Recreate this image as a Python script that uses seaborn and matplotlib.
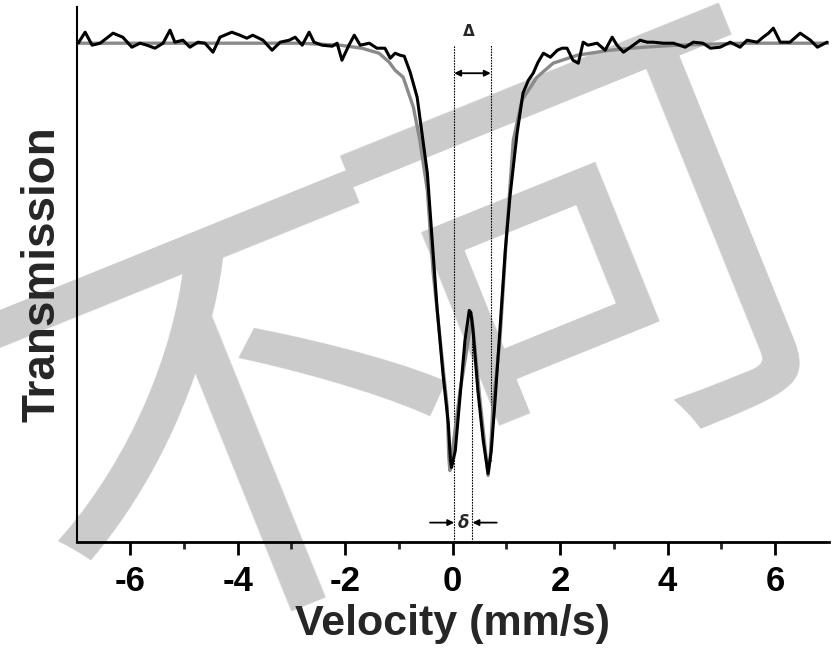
import matplotlib
matplotlib.use("Agg")
import matplotlib.pyplot as plt
import seaborn as sns
import pandas as pd

# ---- data ----
data_velocity = [-6.97, -6.84, -6.71, -6.56, -6.32, -6.14, -5.97, -5.82, -5.69, -5.54,
                 -5.39, -5.26, -5.17, -5.02, -4.89, -4.74, -4.61, -4.46, -4.33, -4.11,
                 -3.96, -3.83, -3.72, -3.53, -3.36, -3.21, -3.04, -2.93, -2.80, -2.67,
                 -2.58, -2.43, -2.24, -2.15, -2.06, -1.93, -1.83, -1.72, -1.55, -1.41,
                 -1.26, -1.16, -1.07, -0.98, -0.90, -0.79, -0.66, -0.57, -0.47, -0.38,
                 -0.29, -0.18, -0.08, -0.04, -0.02, 0.05, 0.14, 0.23, 0.31, 0.34,
                 0.38, 0.47, 0.57, 0.66, 0.72, 0.79, 0.88, 0.98, 1.07, 1.20,
                 1.31, 1.41, 1.50, 1.59, 1.69, 1.82, 1.95, 2.04, 2.13, 2.24,
                 2.34, 2.43, 2.52, 2.69, 2.84, 2.97, 3.06, 3.18, 3.31, 3.49,
                 3.62, 3.73, 3.92, 4.11, 4.33, 4.48, 4.66, 4.80, 4.98, 5.17,
                 5.35, 5.48, 5.67, 5.78, 5.88, 5.97, 6.10, 6.28, 6.47, 6.66,
                 6.79, 6.97]
data_transmission = [1.0000, 1.0011, 0.9998, 1.0000, 1.0010, 1.0006, 0.9996, 1.0000, 0.9998, 0.9995,
                     1.0000, 1.0013, 1.0001, 1.0003, 0.9996, 1.0001, 1.0000, 0.9991, 1.0006, 1.0011,
                     1.0008, 1.0005, 1.0008, 1.0003, 0.9993, 1.0001, 1.0003, 1.0006, 0.9998, 1.0011,
                     1.0001, 0.9998, 0.9997, 1.0000, 0.9983, 0.9998, 1.0008, 0.9998, 1.0000, 0.9995,
                     0.9995, 0.9985, 0.9990, 0.9988, 0.9987, 0.9971, 0.9946, 0.9910, 0.9870, 0.9803,
                     0.9736, 0.9670, 0.9620, 0.9583, 0.9576, 0.9593, 0.9648, 0.9703, 0.9733, 0.9731,
                     0.9713, 0.9653, 0.9603, 0.9570, 0.9593, 0.9643, 0.9713, 0.9793, 0.9848, 0.9910,
                     0.9950, 0.9963, 0.9970, 0.9981, 0.9990, 0.9986, 0.9993, 0.9995, 0.9995, 0.9983,
                     0.9980, 1.0001, 0.9998, 1.0000, 0.9993, 1.0006, 0.9998, 0.9991, 0.9996, 1.0003,
                     1.0001, 1.0001, 1.0000, 1.0000, 0.9996, 1.0001, 1.0000, 0.9995, 0.9996, 1.0001,
                     0.9996, 1.0003, 1.0001, 1.0006, 1.0010, 1.0015, 1.0001, 1.0001, 1.0010, 1.0003,
                     0.9996, 1.0001]

fit_velocity = [-7.00, -2.84, -2.09, -1.69, -1.37, -1.18, -1.07, -0.92, -0.73, -0.61,
                -0.47, -0.36, -0.23, -0.10, -0.07, -0.05, 0.14, 0.36, 0.51, 0.66,
                0.70, 0.75, 0.88, 1.01, 1.13, 1.29, 1.57, 1.87, 2.32, 2.93,
                3.55, 4.18, 5.41, 7.00]
fit_transmission = [1.0000, 1.0000, 0.9998, 0.9995, 0.9990, 0.9981, 0.9973, 0.9966, 0.9936, 0.9903,
                     0.9853, 0.9770, 0.9703, 0.9636, 0.9586, 0.9573, 0.9653, 0.9726, 0.9643, 0.9568,
                     0.9586, 0.9636, 0.9703, 0.9813, 0.9903, 0.9943, 0.9966, 0.9980, 0.9988, 0.9993,
                     0.9996, 0.9998, 1.0000, 1.0000]

x_ticks = [-6, -4, -2, 0, 2, 4, 6]
x_tick_labels = ["-6", "-4", "-2", "0", "2", "4", "6"]
x_minor_ticks = [-5, -3, -1, 1, 3, 5]

# dashed guide positions (mm/s) and their vertical extents (transmission)
guide_x = [0.03, 0.37, 0.71]
guide_top = [0.9998, 0.9720, 0.9998]
guide_bottom = [0.9502, 0.9502, 0.9583]

x_label = "Velocity (mm/s)"
y_label = "Transmission"
watermark = ["不", "可"]

# ---- figure ----
sns.set_theme(style="ticks")
plt.rcParams["font.family"] = ["Liberation Sans", "DejaVu Sans"]

fig = plt.figure(figsize=(8.32, 6.51), dpi=100)
fig.patch.set_facecolor("white")
ax = fig.add_axes([0.092, 0.168, 0.904, 0.821])
ax.set_facecolor("none")

fit_df = pd.DataFrame({"v": fit_velocity, "t": fit_transmission})
data_df = pd.DataFrame({"v": data_velocity, "t": data_transmission})

sns.lineplot(data=fit_df, x="v", y="t", ax=ax, color="#8a8a8a", linewidth=2.4,
             sort=False, estimator=None, zorder=3)
sns.lineplot(data=data_df, x="v", y="t", ax=ax, color="black", linewidth=2.2,
             sort=False, estimator=None, zorder=4)

for gx, gt, gb in zip(guide_x, guide_top, guide_bottom):
    ax.plot([gx, gx], [gb, gt], color="black", linestyle=(0, (1.5, 1.0)),
            linewidth=0.8, zorder=2)

# Delta (quadrupole splitting) arrow
ax.annotate("", xy=(guide_x[0], 0.9970), xytext=(guide_x[2], 0.9970),
            arrowprops=dict(arrowstyle="<|-|>", color="black", lw=1.3,
                            mutation_scale=9, shrinkA=0, shrinkB=0), zorder=5)
ax.text((guide_x[0] + guide_x[2]) / 2 - 0.06, 1.0004, "Δ", ha="center", va="bottom",
        fontsize=11, fontweight="bold", family=["DejaVu Sans"])

# delta (isomer shift) arrows
ax.annotate("", xy=(guide_x[0], 0.9521), xytext=(guide_x[0] - 0.45, 0.9521),
            arrowprops=dict(arrowstyle="-|>", color="black", lw=1.3,
                            mutation_scale=9, shrinkA=0, shrinkB=0), zorder=5)
ax.annotate("", xy=(guide_x[1], 0.9521), xytext=(guide_x[1] + 0.45, 0.9521),
            arrowprops=dict(arrowstyle="-|>", color="black", lw=1.3,
                            mutation_scale=9, shrinkA=0, shrinkB=0), zorder=5)
ax.text((guide_x[0] + guide_x[1]) / 2, 0.9521, "δ", ha="center", va="center",
        fontsize=12, fontweight="bold", fontstyle="italic", family=["DejaVu Sans"])

ax.set_xlim(-7, 7)
ax.set_ylim(0.9502, 1.0036)
ax.set_xticks(x_ticks)
ax.set_xticklabels(x_tick_labels, fontsize=25, fontweight="bold")
ax.set_xticks(x_minor_ticks, minor=True)
ax.set_yticks([])
ax.tick_params(axis="x", which="major", length=9, width=2, direction="out", pad=8,
               colors="black")
ax.tick_params(axis="x", which="minor", length=5, width=2, direction="out")
ax.set_xlabel(x_label, fontsize=31, fontweight="bold", labelpad=4)
ax.set_ylabel(y_label, fontsize=33, fontweight="bold", labelpad=9)

for side in ["top", "right"]:
    ax.spines[side].set_visible(False)
ax.spines["left"].set_linewidth(1.5)
ax.spines["bottom"].set_linewidth(2.0)
ax.spines["left"].set_color("black")
ax.spines["bottom"].set_color("black")

# watermark behind the axes
fig.text(0.295, 0.32, watermark[0], fontsize=330, fontweight="normal", rotation=22,
         color="#cbcbcb", ha="center", va="center", zorder=-1,
         family=["Noto Sans CJK SC", "DejaVu Sans"])
fig.text(0.733, 0.575, watermark[1], fontsize=330, fontweight="normal", rotation=22,
         color="#cbcbcb", ha="center", va="center", zorder=-1,
         family=["Noto Sans CJK SC", "DejaVu Sans"])

fig.savefig("out.png", dpi=100, facecolor="white")
